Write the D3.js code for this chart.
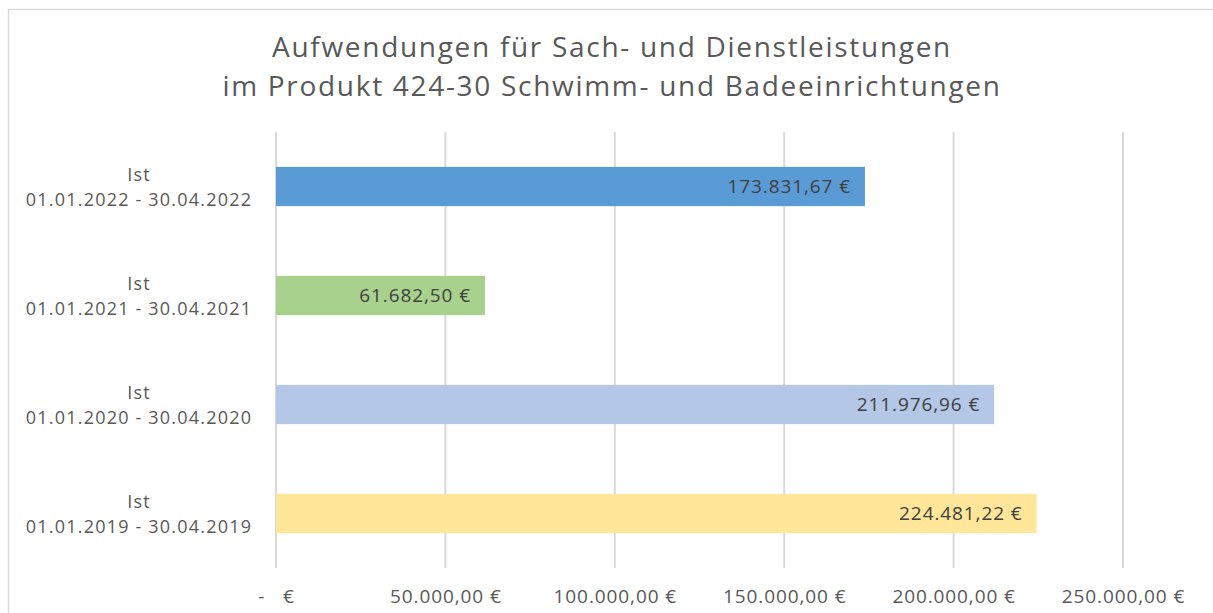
<!DOCTYPE html>
<html>
<head>
<meta charset="utf-8">
<script src="https://cdn.jsdelivr.net/npm/d3@7"></script>
<style>
  body { margin: 0; background: #fff; }
</style>
</head>
<body>
<div id="chart"></div>
<script>
var titleLines = ["Aufwendungen für Sach- und Dienstleistungen", "im Produkt 424-30 Schwimm- und Badeeinrichtungen"];
var categories = ["01.01.2022 - 30.04.2022", "01.01.2021 - 30.04.2021", "01.01.2020 - 30.04.2020", "01.01.2019 - 30.04.2019"];
var values = [173831.67, 61682.50, 211976.96, 224481.22];
var valueLabels = ["173.831,67 €", "61.682,50 €", "211.976,96 €", "224.481,22 €"];
var colors = ["#5B9BD5", "#A9D18E", "#B4C7E7", "#FFE699"];
var tickValues = [0, 50000, 100000, 150000, 200000, 250000];
var tickLabels = ["-   €", "50.000,00 €", "100.000,00 €", "150.000,00 €", "200.000,00 €", "250.000,00 €"];

var W = 1213, H = 613;
var margin = { top: 132, left: 276, right: 89, bottom: 45 };
var width = W - margin.left - margin.right,
    height = H - margin.top - margin.bottom;

var root = d3.select("#chart").append("svg")
  .attr("width", W)
  .attr("height", H);

// chart border
root.append("rect")
  .attr("x", 8.5).attr("y", 9.5)
  .attr("width", 1240).attr("height", 640)
  .attr("fill", "none")
  .attr("stroke", "#d9d9d9")
  .attr("stroke-width", 1.5);

root.selectAll(".title")
  .data(titleLines)
  .enter().append("text")
  .attr("class", "title")
  .attr("x", 612)
  .attr("y", function(d, i) { return 57 + i * 39; })
  .attr("text-anchor", "middle")
  .attr("font-family", "'Open Sans', sans-serif")
  .attr("font-size", 28)
  .attr("letter-spacing", 1.7)
  .attr("fill", "#595959")
  .text(function(d) { return d; });

var svg = root.append("g")
  .attr("transform", "translate(" + margin.left + "," + margin.top + ")");

var x = d3.scaleLinear().domain([0, 250000]).range([0, 847]);
var y = d3.scaleBand().domain(categories).range([0, height]).padding(0);

// gridlines
svg.selectAll(".grid")
  .data(tickValues)
  .enter().append("line")
  .attr("class", "grid")
  .attr("x1", function(d) { return x(d); })
  .attr("x2", function(d) { return x(d); })
  .attr("y1", 0)
  .attr("y2", height)
  .attr("stroke", "#d9d9d9")
  .attr("stroke-width", 2);

var barH = y.bandwidth() * 0.36;

svg.selectAll(".bar")
  .data(values)
  .enter().append("rect")
  .attr("class", "bar")
  .attr("x", x(0))
  .attr("y", function(d, i) { return y(categories[i]) + (y.bandwidth() - barH) / 2; })
  .attr("width", function(d) { return x(d) - x(0); })
  .attr("height", barH)
  .attr("fill", function(d, i) { return colors[i]; });

svg.selectAll(".barLabel")
  .data(values)
  .enter().append("text")
  .attr("class", "barLabel")
  .attr("x", function(d) { return x(d) - 14; })
  .attr("y", function(d, i) { return y(categories[i]) + y.bandwidth() / 2; })
  .attr("dy", "0.35em")
  .attr("text-anchor", "end")
  .attr("font-family", "'Open Sans', sans-serif")
  .attr("font-size", 19)
  .attr("letter-spacing", 0.9)
  .attr("fill", "#404040")
  .text(function(d, i) { return valueLabels[i]; });

// category labels
var cat = svg.selectAll(".catLabel")
  .data(categories)
  .enter().append("text")
  .attr("class", "catLabel")
  .attr("text-anchor", "middle")
  .attr("font-family", "'Open Sans', sans-serif")
  .attr("font-size", 18)
  .attr("letter-spacing", 1.2)
  .attr("fill", "#595959")
  .attr("transform", function(d) {
    return "translate(" + (139 - margin.left) + "," + (y(d) + y.bandwidth() / 2) + ")";
  });
cat.append("tspan").attr("x", 0).attr("y", -6).text("Ist");
cat.append("tspan").attr("x", 0).attr("y", 19).text(function(d) { return d; });

var xAxis = d3.axisBottom(x)
  .tickValues(tickValues)
  .tickSize(0)
  .tickPadding(22)
  .tickFormat(function(d, i) { return tickLabels[i]; });

svg.append("g")
  .attr("class", "axis x-axis")
  .attr("transform", "translate(0," + height + ")")
  .call(xAxis)
  .call(function(g) { g.select(".domain").remove(); })
  .selectAll("text")
  .attr("font-family", "'Open Sans', sans-serif")
  .attr("font-size", 19)
  .attr("letter-spacing", 0.9)
  .attr("fill", "#595959")
  .style("white-space", "pre");
</script>
</body>
</html>
